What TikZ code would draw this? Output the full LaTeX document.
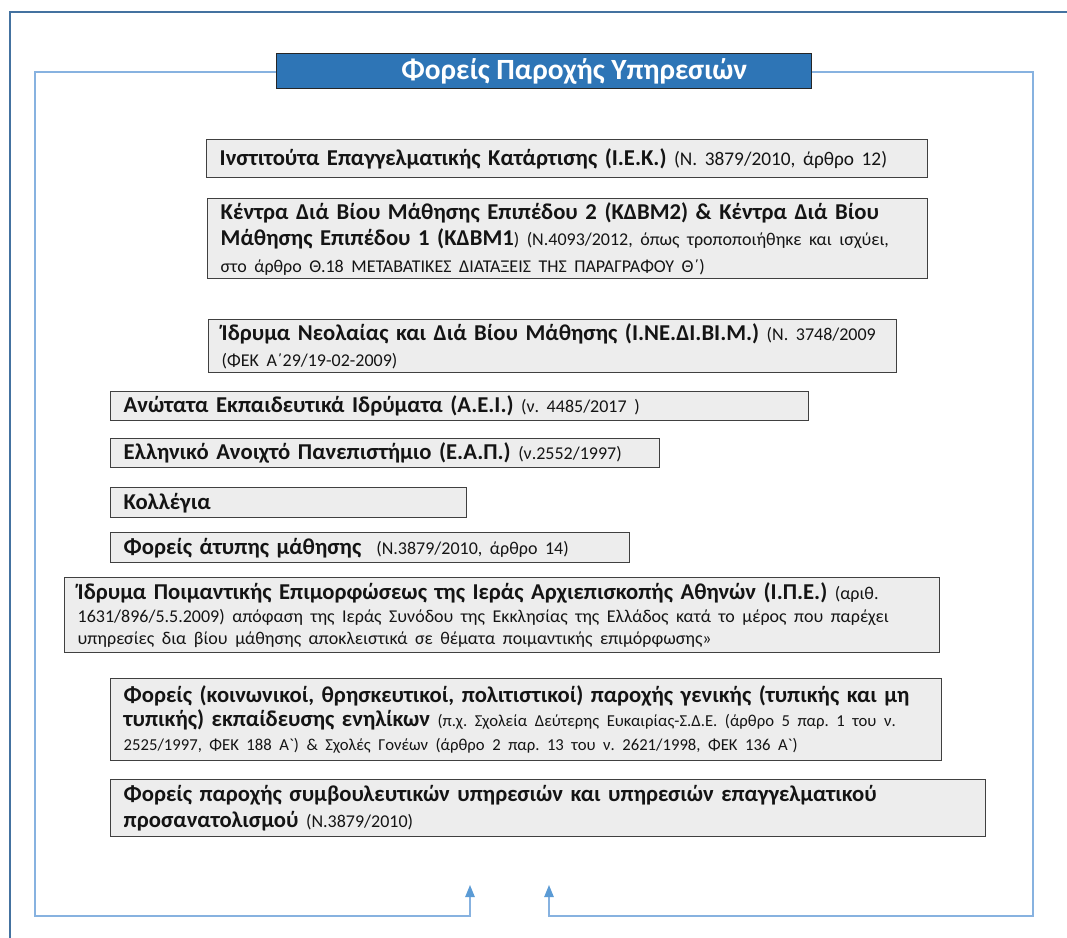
\documentclass[tikz,border=0pt]{standalone}
\usepackage{fontspec}
\setmainfont{Carlito}[Ligatures=TeXOff]
\usetikzlibrary{arrows.meta}
\definecolor{frameblue}{RGB}{68,114,160}
\definecolor{titleblue}{RGB}{46,117,182}
\definecolor{connblue}{RGB}{135,178,224}
\definecolor{tipblue}{RGB}{91,155,213}
\definecolor{boxfill}{RGB}{237,237,237}
\definecolor{boxline}{RGB}{64,64,64}
\newcommand{\bigf}{\fontsize{17}{20}\selectfont\frenchspacing}
\newcommand{\smf}{\fontsize{13.5}{20}\selectfont}
\newcommand{\smg}{\fontsize{12.5}{20}\selectfont}
\newcommand{\smh}{\fontsize{14.5}{20}\selectfont}
\tikzset{
  box/.style={draw=boxline, line width=1.1pt, fill=boxfill, anchor=north west,
    inner xsep=9.75pt, inner ysep=0pt, align=left, font=\bigf, text=black!92},
  titlebox/.style={draw=black!85, line width=1.1pt, fill=titleblue, anchor=north west,
    text=white, font=\fontsize{22}{24}\selectfont\bfseries, inner sep=0pt},
  conn/.style={draw=connblue, line width=1.1pt, -{Triangle[length=9pt,width=7pt,color=tipblue]}}
}
\begin{document}
\begin{tikzpicture}[x=0.75pt,y=-0.75pt]
\useasboundingbox[fill=white] (0,0) rectangle (1067,938);
% outer frame (partial)
\draw[frameblue, line width=1.6pt] (10,938) -- (10,12) -- (1067,12);

\node[titlebox, minimum width=401.25pt, minimum height=26.25pt] (title) at (276,53)
  {\hspace*{45pt}Φορείς Παροχής Υπηρεσιών};

\node[box, text width=521.25pt, minimum height=28.5pt] (b1) at (206,139)
  {\textbf{Ινστιτούτα Επαγγελματικής Κατάρτισης (Ι.Ε.Κ.)} {\smh (Ν. 3879/2010, άρθρο 12)}};

\node[box, text width=520.5pt, minimum height=60pt] (b2) at (207,198)
  {\textbf{Κέντρα Διά Βίου Μάθησης Επιπέδου 2 (ΚΔΒΜ2) \& Κέντρα Διά Βίου}\\
   \textbf{Μάθησης Επιπέδου 1 (ΚΔΒΜ1}{\smf) (Ν.4093/2012, όπως τροποποιήθηκε και ισχύει,}\\
   {\smf στο άρθρο Θ.18 ΜΕΤΑΒΑΤΙΚΕΣ ΔΙΑΤΑΞΕΙΣ ΤΗΣ ΠΑΡΑΓΡΑΦΟΥ Θ΄)}};

\node[box, text width=496.5pt, minimum height=39.75pt] (b3) at (208,319)
  {\textbf{Ίδρυμα Νεολαίας και Διά Βίου Μάθησης (Ι.ΝΕ.ΔΙ.ΒΙ.Μ.)} {\smf (Ν. 3748/2009}\\[-1pt]
   {\smf (ΦΕΚ Α΄29/19-02-2009)}};

\node[box, text width=504pt, minimum height=21.75pt] (b4) at (110,391)
  {\textbf{Ανώτατα Εκπαιδευτικά Ιδρύματα (Α.Ε.Ι.)} {\smf (ν. 4485/2017 )}};

\node[box, text width=392.25pt, minimum height=21.75pt] (b5) at (110,438)
  {\textbf{Ελληνικό Ανοιχτό Πανεπιστήμιο (Ε.Α.Π.)} {\smf (ν.2552/1997)}};

\node[box, text width=247.5pt, minimum height=22.5pt] (b6) at (110,487)
  {\textbf{Κολλέγια}};

\node[box, text width=369.75pt, minimum height=22.5pt] (b7) at (110,532)
  {\textbf{Φορείς άτυπης μάθησης}\ \ {\smf (Ν.3879/2010, άρθρο 14)}};

\node[box, text width=636.75pt, minimum height=56.25pt] (b8) at (64,577)
  {\textbf{Ίδρυμα Ποιμαντικής Επιμορφώσεως της Ιεράς Αρχιεπισκοπής Αθηνών (Ι.Π.Ε.)} {\smf (αριθ.}\\[-3pt]
   {\smf 1631/896/5.5.2009) απόφαση της Ιεράς Συνόδου της Εκκλησίας της Ελλάδος κατά το μέρος που παρέχει}\\[-3pt]
   {\smf υπηρεσίες δια βίου μάθησης αποκλειστικά σε θέματα ποιμαντικής επιμόρφωσης»}};

\node[box, text width=603.75pt, minimum height=61.5pt] (b9) at (110,678)
  {\textbf{Φορείς (κοινωνικοί, θρησκευτικοί, πολιτιστικοί) παροχής γενικής (τυπικής και μη}\\[-2pt]
   \textbf{τυπικής) εκπαίδευσης ενηλίκων} {\smg (π.χ. Σχολεία Δεύτερης Ευκαιρίας-Σ.Δ.Ε. (άρθρο 5 παρ. 1 του ν.}\\[-2pt]
   {\smg 2525/1997, ΦΕΚ 188 Α`) \& Σχολές Γονέων (άρθρο 2 παρ. 13 του ν. 2621/1998, ΦΕΚ 136 Α`)}};

\node[box, text width=636.75pt, minimum height=42.75pt] (b10) at (110,779)
  {\textbf{Φορείς παροχής συμβουλευτικών υπηρεσιών και υπηρεσιών επαγγελματικού}\\
   \textbf{προσανατολισμού} {\smf (Ν.3879/2010)}};

% connectors
\coordinate (l1) at (35,72);
\coordinate (l2) at (35,916);
\coordinate (l3) at (470,916);
\coordinate (aL) at (470,885);
\coordinate (r1) at (1033,72);
\coordinate (r2) at (1033,916);
\coordinate (r3) at (549,916);
\coordinate (aR) at (549,885);
\draw[conn] (title.west |- l1) -- (l1) -- (l2) -- (l3) -- (aL);
\draw[conn] (title.east |- r1) -- (r1) -- (r2) -- (r3) -- (aR);
\end{tikzpicture}
\end{document}
